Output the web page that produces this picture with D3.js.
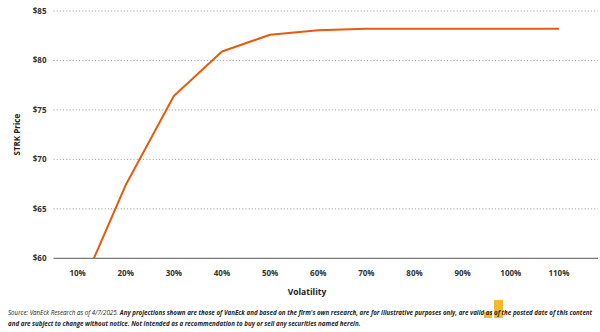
<!DOCTYPE html>
<html><head><meta charset="utf-8">
<script src="https://cdn.jsdelivr.net/npm/d3@7"></script>
<style>
html,body{margin:0;padding:0;background:#fff;}
svg{display:block;font-family:"Open Sans",sans-serif;}
</style></head>
<body>
<svg id="c" width="600" height="332"></svg>
<script>
const categories = ["10%","20%","30%","40%","50%","60%","70%","80%","90%","100%","110%"];
const prices = [56.2, 67.4, 76.4, 80.9, 82.6, 83.05, 83.2, 83.2, 83.2, 83.2, 83.2];
const yTicks = [60, 65, 70, 75, 80, 85];

const svg = d3.select("#c");
const pLeft = 53.5, pRight = 583, pTop = 11, pBottom = 258.3, gridRight = 598;

const x = d3.scaleBand().domain(categories).range([pLeft, pRight]).padding(0);
const y = d3.scaleLinear().domain([60, 85]).range([pBottom, pTop]);

// gridlines
svg.append("g").selectAll("line").data(yTicks.filter(d => d > 60)).join("line")
  .attr("x1", pLeft).attr("x2", gridRight)
  .attr("y1", d => y(d)).attr("y2", d => y(d))
  .attr("stroke", "#9a9a9a").attr("stroke-width", 1)
  .attr("stroke-dasharray", "1,2.2");

// bottom axis line
svg.append("line").attr("x1", pLeft).attr("x2", gridRight)
  .attr("y1", y(60)).attr("y2", y(60))
  .attr("stroke", "#555").attr("stroke-width", 1);

// y tick labels
svg.append("g").selectAll("text").data(yTicks).join("text")
  .attr("x", 46.5).attr("y", d => y(d)).attr("dy", "0.35em")
  .attr("text-anchor", "end").attr("font-size", 8).attr("font-weight", 700)
  .attr("fill", "#333").text(d => "$" + d);

// x tick labels
svg.append("g").selectAll("text").data(categories).join("text")
  .attr("x", d => x(d) + x.bandwidth() / 2).attr("y", 273).attr("dy", "0.35em")
  .attr("text-anchor", "middle").attr("font-size", 8).attr("font-weight", 700)
  .attr("fill", "#333").text(d => d);

// axis titles
svg.append("text").attr("x", 307).attr("y", 292).attr("dy", "0.35em")
  .attr("text-anchor", "middle").attr("font-size", 8.5).attr("font-weight", 700)
  .attr("fill", "#222").text("Volatility");
svg.append("text").attr("transform", "translate(17," + ((pTop + pBottom) / 2) + ") rotate(-90)")
  .attr("dy", "0.35em").attr("text-anchor", "middle").attr("font-size", 8).attr("font-weight", 700)
  .attr("fill", "#222").text("STRK Price");

// clip
svg.append("clipPath").attr("id", "clip").append("rect")
  .attr("x", pLeft).attr("y", 0).attr("width", gridRight - pLeft).attr("height", pBottom);

const line = d3.line().x((d, i) => x(categories[i]) + x.bandwidth() / 2).y(d => y(d));
svg.append("path").datum(prices).attr("clip-path", "url(#clip)")
  .attr("d", line).attr("fill", "none").attr("stroke", "#E85A0C")
  .attr("stroke-width", 2).attr("stroke-linejoin", "round");

// watermark logo (behind text)
const wm = svg.append("g").attr("opacity", 0.9);
wm.append("rect").attr("x", 494).attr("y", 300).attr("width", 9).attr("height", 18).attr("fill", "#F2B318");
wm.append("rect").attr("x", 484).attr("y", 312).attr("width", 8).attr("height", 6).attr("fill", "#F2B318");

// footnote
const fn = svg.append("text").attr("x", 8).attr("y", 315).attr("font-size", 6.2)
  .attr("font-style", "italic").attr("fill", "#222");
fn.append("tspan").attr("font-weight", 400).text("Source: VanEck Research as of 4/7/2025. ");
fn.append("tspan").attr("font-weight", 700).text("Any projections shown are those of VanEck and based on the firm's own research, are for illustrative purposes only, are valid as of the posted date of this content");
svg.append("text").attr("x", 8).attr("y", 326).attr("font-size", 6.2)
  .attr("font-style", "italic").attr("font-weight", 700).attr("fill", "#222")
  .text("and are subject to change without notice. Not intended as a recommendation to buy or sell any securities named herein.");
</script>
</body></html>
